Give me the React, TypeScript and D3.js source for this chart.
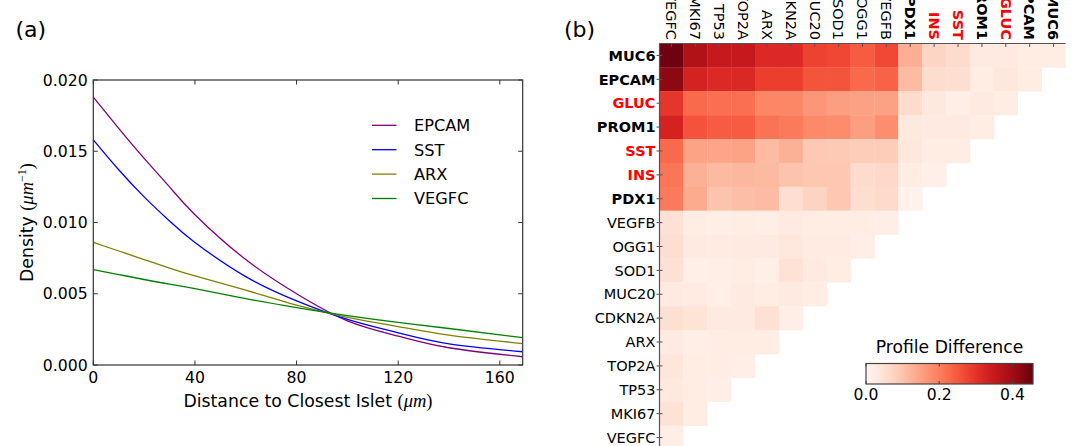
import React from 'react';
import * as d3 from 'd3';

// ---------- Panel (a) data ----------
const distance = [0, 10, 20, 30, 40, 60, 80, 100, 120, 140, 169];
const epcamDensity = [0.0188, 0.0166, 0.0145, 0.0125, 0.01055, 0.0074, 0.0050, 0.0031, 0.00203, 0.00121, 0.00058];
const sstDensity = [0.0158, 0.0137, 0.0118, 0.0101, 0.0086, 0.0062, 0.0045, 0.0032, 0.00226, 0.00149, 0.00093];
const arxDensity = [0.0086, 0.0080, 0.0074, 0.0068, 0.00625, 0.00525, 0.0042, 0.00335, 0.0027, 0.0021, 0.0015];
const vegfcDensity = [0.0067, 0.00635, 0.0060, 0.00567, 0.00536, 0.00466, 0.00403, 0.00347, 0.00299, 0.00256, 0.00192];
const seriesNames = ['EPCAM', 'SST', 'ARX', 'VEGFC'];
const seriesColors = ['#800080', '#0000ff', '#808000', '#008000'];
const xTicks = [0, 40, 80, 120, 160];
const yTicks = [0, 0.005, 0.01, 0.015, 0.02];

// ---------- Panel (b) data ----------
const rowGenes = ['MUC6', 'EPCAM', 'GLUC', 'PROM1', 'SST', 'INS', 'PDX1', 'VEGFB', 'OGG1', 'SOD1', 'MUC20', 'CDKN2A', 'ARX', 'TOP2A', 'TP53', 'MKI67', 'VEGFC'];
const colGenes = ['VEGFC', 'MKI67', 'TP53', 'TOP2A', 'ARX', 'CDKN2A', 'MUC20', 'SOD1', 'OGG1', 'VEGFB', 'PDX1', 'INS', 'SST', 'PROM1', 'GLUC', 'EPCAM', 'MUC6'];
const boldGenes = ['MUC6', 'EPCAM', 'GLUC', 'PROM1', 'SST', 'INS', 'PDX1'];
const redGenes = ['GLUC', 'SST', 'INS'];
// row i lists values for columns 0..(16-i)
const profileDiff = [
  [0.45, 0.38, 0.35, 0.35, 0.315, 0.315, 0.28, 0.273, 0.245, 0.27, 0.13, 0.072, 0.06, 0.028, 0.03, 0.022, 0.022],
  [0.42, 0.33, 0.315, 0.318, 0.283, 0.283, 0.255, 0.255, 0.228, 0.235, 0.113, 0.057, 0.055, 0.025, 0.035, 0.022],
  [0.296, 0.228, 0.22, 0.22, 0.187, 0.187, 0.165, 0.155, 0.15, 0.15, 0.06, 0.032, 0.02, 0.028, 0.024],
  [0.328, 0.257, 0.245, 0.245, 0.215, 0.205, 0.183, 0.18, 0.155, 0.178, 0.032, 0.03, 0.03, 0.022],
  [0.226, 0.147, 0.145, 0.147, 0.113, 0.128, 0.092, 0.09, 0.085, 0.085, 0.037, 0.022, 0.022],
  [0.21, 0.128, 0.114, 0.118, 0.114, 0.1, 0.095, 0.095, 0.06, 0.065, 0.022, 0.015],
  [0.205, 0.136, 0.1, 0.108, 0.113, 0.055, 0.074, 0.095, 0.055, 0.063, 0.01],
  [0.05, 0.022, 0.02, 0.022, 0.02, 0.028, 0.024, 0.024, 0.024, 0.02],
  [0.055, 0.03, 0.027, 0.03, 0.03, 0.036, 0.027, 0.027, 0.02],
  [0.05, 0.017, 0.02, 0.024, 0.017, 0.048, 0.028, 0.022],
  [0.03, 0.027, 0.017, 0.03, 0.022, 0.03, 0.022],
  [0.052, 0.045, 0.03, 0.03, 0.05, 0.02],
  [0.03, 0.02, 0.022, 0.024, 0.022],
  [0.038, 0.022, 0.024, 0.02],
  [0.032, 0.022, 0.02],
  [0.048, 0.022],
  [0.02],
];
const colorbarTicks = [0, 0.2, 0.4];
const colorMax = 0.456;

const FONT = "'DejaVu Sans', sans-serif";
const MATH = "'Liberation Serif', 'DejaVu Serif', serif";

export default function App() {
  // ---- panel (a) ----
  const x = d3.scaleLinear().domain([0, 169]).range([93.3, 522.7]);
  const y = d3.scaleLinear().domain([0, 0.02]).range([365, 80]);
  const allSeries = [epcamDensity, sstDensity, arxDensity, vegfcDensity];
  const line = d3
    .line<number>()
    .x((_, i) => x(distance[i]))
    .y((d) => y(d))
    .curve(d3.curveNatural);
  const [x0, x1] = x.range();
  const [yb0, yt0] = y.range();
  const tickLen = 4.5;

  // ---- panel (b) ----
  const xb = d3.scaleBand<string>().domain(colGenes).range([659.5, 1065.5]);
  const yb = d3.scaleBand<string>().domain(rowGenes).range([43.5, 449.5]);
  const color = d3.scaleSequential(d3.interpolateReds).domain([0, colorMax]);
  const cb = d3.scaleLinear().domain([0, colorMax]).range([866, 1033]);
  const cbTop = 363.5;
  const cbH = 20.5;
  const gradStops = d3.range(0, 1.0001, 0.05);

  const labelColor = (g: string) => (redGenes.includes(g) ? '#ff0000' : '#000');
  const labelWeight = (g: string) => (boldGenes.includes(g) ? 'bold' : 'normal');

  return (
    <svg
      width={1072}
      height={446}
      style={{ position: 'absolute', left: 0, top: 0, background: '#fff' }}
      fontFamily={FONT}
    >
      <rect x={0} y={0} width={1072} height={446} fill="#fff" />
      <defs>
        <linearGradient id="cbgrad" x1="0" x2="1" y1="0" y2="0">
          {gradStops.map((t) => (
            <stop key={t} offset={t} stopColor={d3.interpolateReds(t)} />
          ))}
        </linearGradient>
        <clipPath id="plotclip">
          <rect x={x0} y={yt0} width={x1 - x0} height={yb0 - yt0} />
        </clipPath>
      </defs>

      {/* ---------- Panel (a) ---------- */}
      <text x={15.5} y={37} fontSize={22}>(a)</text>

      <g clipPath="url(#plotclip)">
        {allSeries.map((s, i) => (
          <path key={seriesNames[i]} d={line(s) || ''} fill="none" stroke={seriesColors[i]} strokeWidth={1.3} />
        ))}
      </g>

      <rect x={x0} y={yt0} width={x1 - x0} height={yb0 - yt0} fill="none" stroke="#333" strokeWidth={1.2} />

      {xTicks.map((t) => (
        <g key={'xt' + t}>
          <line x1={x(t)} x2={x(t)} y1={yb0} y2={yb0 - tickLen} stroke="#333" />
          <line x1={x(t)} x2={x(t)} y1={yt0} y2={yt0 + tickLen} stroke="#333" />
          <text x={x(t)} y={383} fontSize={15.7} textAnchor="middle">{t}</text>
        </g>
      ))}
      {yTicks.map((t) => (
        <g key={'yt' + t}>
          <line x1={x0} x2={x0 + tickLen} y1={y(t)} y2={y(t)} stroke="#333" />
          <line x1={x1} x2={x1 - tickLen} y1={y(t)} y2={y(t)} stroke="#333" />
          <text x={x0 - 5.6} y={y(t)} dy="0.36em" fontSize={15.7} textAnchor="end">{t.toFixed(3)}</text>
        </g>
      ))}

      <text x={(x0 + x1) / 2} y={407} fontSize={17.3} textAnchor="middle">
        Distance to Closest Islet{' '}
        <tspan fontFamily={MATH} fontSize={18.5}>(</tspan>
        <tspan fontFamily={MATH} fontStyle="italic" fontSize={18.5}>μm</tspan>
        <tspan fontFamily={MATH} fontSize={18.5}>)</tspan>
      </text>
      <text transform={`translate(33,${(yb0 + yt0) / 2}) rotate(-90)`} fontSize={17.3} textAnchor="middle">
        Density{' '}
        <tspan fontFamily={MATH} fontSize={18.5}>(</tspan>
        <tspan fontFamily={MATH} fontStyle="italic" fontSize={18.5}>μm</tspan>
        <tspan fontFamily={MATH} fontSize={12} dy={-7.5}>−1</tspan>
        <tspan fontFamily={MATH} fontSize={18.5} dy={7.5}>)</tspan>
      </text>

      {/* legend */}
      {seriesNames.map((n, i) => {
        const ly = 125.3 + i * 24.4;
        return (
          <g key={'lg' + n}>
            <line x1={372} x2={396.5} y1={ly} y2={ly} stroke={seriesColors[i]} strokeWidth={1.3} />
            <text x={414} y={ly} dy="0.36em" fontSize={16.2}>{n}</text>
          </g>
        );
      })}

      {/* ---------- Panel (b) ---------- */}
      <text x={564} y={37} fontSize={22}>(b)</text>

      {profileDiff.map((row, ri) =>
        row.map((v, ci) => (
          <rect
            key={`c${ri}-${ci}`}
            x={xb(colGenes[ci])}
            y={yb(rowGenes[ri])}
            width={xb.bandwidth() + 0.3}
            height={yb.bandwidth() + 0.3}
            fill={color(Math.min(v, colorMax))}
          />
        ))
      )}

      {/* spines */}
      <line x1={659.5} x2={1065.5} y1={43.5} y2={43.5} stroke="#555" strokeWidth={1.2} />
      <line x1={659.5} x2={659.5} y1={43.5} y2={446} stroke="#555" strokeWidth={1.2} />

      {rowGenes.map((g) => {
        const cy = (yb(g) as number) + yb.bandwidth() / 2;
        return (
          <g key={'rl' + g}>
            <line x1={656.5} x2={662.5} y1={cy} y2={cy} stroke="#555" />
            <text
              x={655.5}
              y={cy}
              dy="0.36em"
              fontSize={14.5}
              textAnchor="end"
              fill={labelColor(g)}
              fontWeight={labelWeight(g)}
            >
              {g}
            </text>
          </g>
        );
      })}
      {colGenes.map((g) => {
        const cx = (xb(g) as number) + xb.bandwidth() / 2;
        return (
          <g key={'cl' + g}>
            <line x1={cx} x2={cx} y1={43.5} y2={47} stroke="#555" />
            <text
              transform={`translate(${cx},40) rotate(90)`}
              dy="0.36em"
              fontSize={14.5}
              textAnchor="end"
              fill={labelColor(g)}
              fontWeight={labelWeight(g)}
            >
              {g}
            </text>
          </g>
        );
      })}

      {/* colorbar */}
      <text x={(cb(0) + cb(colorMax)) / 2} y={353} fontSize={17.2} textAnchor="middle">Profile Difference</text>
      <rect x={cb(0)} y={cbTop} width={cb(colorMax) - cb(0)} height={cbH} fill="url(#cbgrad)" stroke="#444" strokeWidth={1.2} />
      {colorbarTicks.map((t) => (
        <g key={'cbt' + t}>
          <line x1={cb(t)} x2={cb(t)} y1={cbTop + cbH} y2={cbTop + cbH - 3} stroke="#444" />
          <line x1={cb(t)} x2={cb(t)} y1={cbTop} y2={cbTop + 3} stroke="#444" />
          <text x={cb(t)} y={cbTop + cbH + 16} fontSize={15.6} textAnchor="middle">{t.toFixed(1)}</text>
        </g>
      ))}
    </svg>
  );
}
